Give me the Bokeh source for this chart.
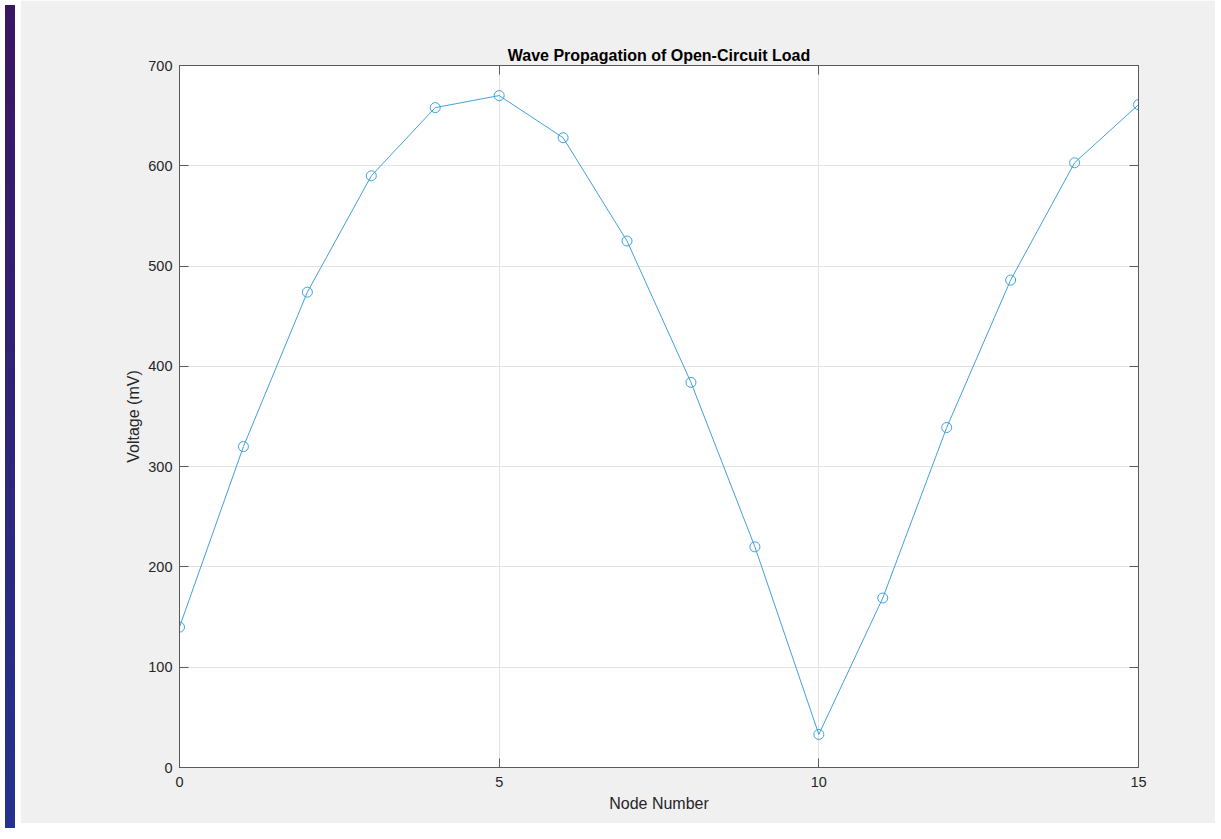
from bokeh.plotting import figure
from bokeh.models import LinearAxis, Range1d, FixedTicker, Div
from bokeh.layouts import row
from bokeh.embed import file_html
from bokeh.resources import INLINE

node = [0, 1, 2, 3, 4, 5, 6, 7, 8, 9, 10, 11, 12, 13, 14, 15]
voltage = [140, 320, 474, 590, 658, 670, 628, 525, 384, 220, 33, 169, 339, 486, 603, 661]
x_ticks = [0, 5, 10, 15]
y_ticks = [0, 100, 200, 300, 400, 500, 600, 700]

FONT = "Liberation Sans"
GRAY_BG = "#f0f0f0"
AX = "#5a5a5a"
TXT = "#262626"
LINE = "#3ea2dc"

p = figure(width=1195, height=823, output_backend="svg", toolbar_location=None,
           x_range=Range1d(0, 15), y_range=Range1d(0, 700),
           x_axis_location=None, y_axis_location=None,
           title="Wave Propagation of Open-Circuit Load",
           min_border_left=159, min_border_right=77, min_border_top=65, min_border_bottom=56)
p.border_fill_color = GRAY_BG
p.background_fill_color = "white"
p.outline_line_color = AX
p.outline_line_width = 1

p.title.align = "center"
p.title.text_font = FONT
p.title.text_font_size = "16px"
p.title.text_font_style = "bold"
p.title.text_color = "black"
p.title.offset = 0
p.title.standoff = 4

def make_axis(ticks, show_labels, label=None):
    ax = LinearAxis(ticker=FixedTicker(ticks=ticks))
    ax.axis_line_color = AX
    ax.major_tick_line_color = AX
    ax.major_tick_in = 9
    ax.major_tick_out = 0
    ax.minor_tick_line_color = None
    ax.major_label_text_font = FONT
    ax.major_label_text_font_size = "14.5px"
    ax.major_label_text_color = TXT
    ax.major_label_standoff = 7
    if not show_labels:
        ax.major_label_text_font_size = "0px"
        ax.major_label_text_color = None
    if label:
        ax.axis_label = label
        ax.axis_label_text_font = FONT
        ax.axis_label_text_font_size = "16px"
        ax.axis_label_text_font_style = "normal"
        ax.axis_label_text_color = TXT
        ax.axis_label_standoff = 8
    return ax

xb = make_axis(x_ticks, True, "Node Number")
xb.major_label_standoff = 9
xb.axis_label_standoff = 5
yl = make_axis(y_ticks, True, "Voltage (mV)")
yl.axis_label_standoff = 3
p.add_layout(xb, "below")
p.add_layout(yl, "left")
p.add_layout(make_axis(x_ticks, False), "above")
p.add_layout(make_axis(y_ticks, False), "right")

p.xgrid.ticker = FixedTicker(ticks=x_ticks)
p.ygrid.ticker = FixedTicker(ticks=y_ticks)
p.xgrid.grid_line_color = "#e3e3e3"
p.ygrid.grid_line_color = "#e3e3e3"

p.line(node, voltage, line_color=LINE, line_width=1)
p.scatter(node, voltage, marker="circle", size=10, fill_color=None, line_color=LINE, line_width=1)

side = Div(width=10, height=823, styles={"background": "linear-gradient(#3b1663, #23338e)"})
layout = row(side, p, spacing=0)

open("out.html", "w").write(file_html(layout, INLINE))
